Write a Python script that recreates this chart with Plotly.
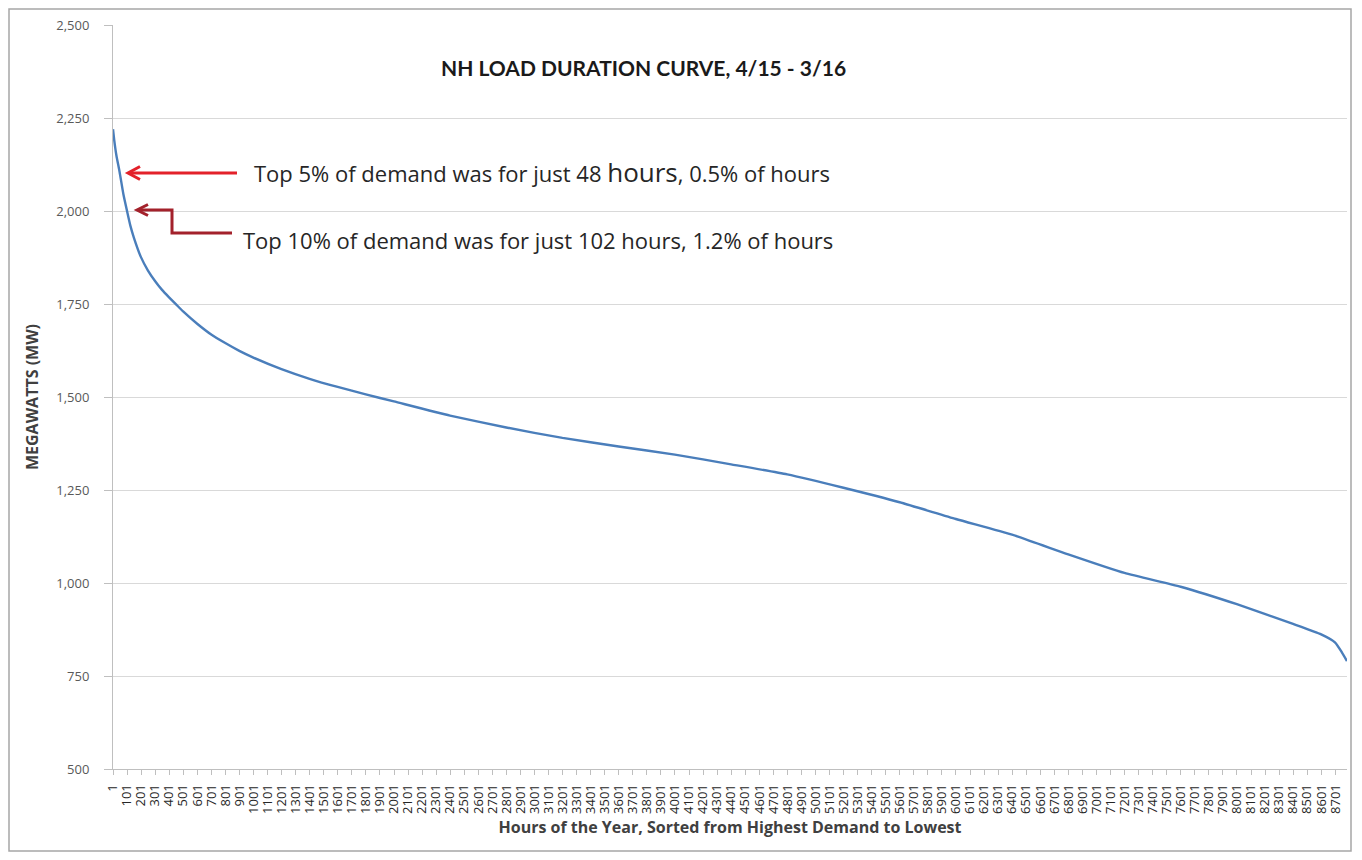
import plotly.graph_objects as go

# hours sorted from highest demand to lowest, and load (MW)
horas = [1, 10, 25, 48, 75, 102, 125, 150, 200, 250, 300, 350, 400, 450, 500,
         600, 700, 800, 900, 1000, 1200, 1400, 1600, 1800, 2000, 2400, 2800,
         3200, 3600, 4000, 4400, 4800, 5200, 5600, 6000, 6400, 6800, 7200,
         7600, 8000, 8400, 8600, 8700, 8740, 8784]
megawatts = [2220, 2190, 2150, 2105, 2045, 1998, 1960, 1928, 1876, 1840, 1812,
             1788, 1768, 1749, 1730, 1697, 1668, 1645, 1624, 1606, 1575, 1549,
             1527, 1507, 1488, 1450, 1418, 1390, 1367, 1345, 1319, 1292, 1256,
             1217, 1172, 1130, 1077, 1027, 990, 943, 890, 862, 840, 818, 790]

tick_horas = list(range(1, 8702, 100))
tick_textos = [str(h) for h in tick_horas]

fonte = "Open Sans"

# page pixel -> paper coords (plot area is 113..1347 x 25..769 on the page)
def px(x):
    return (x - 113) / 1234

def py(y):
    return 1 - (y - 25) / 744

fig = go.Figure()
fig.add_trace(go.Scatter(x=horas, y=megawatts, mode="lines",
                         line=dict(color="#4a7ebb", width=2.4, shape="spline", smoothing=0.5),
                         showlegend=False))

fig.update_layout(
    width=1346, height=844,
    margin=dict(l=105, r=7, t=17, b=83),
    paper_bgcolor="white", plot_bgcolor="white",
    font=dict(family=fonte, color="#404040"),
    xaxis=dict(range=[1, 8784], tickmode="array", tickvals=tick_horas,
               ticktext=tick_textos, tickangle=-90,
               tickfont=dict(size=13, color="#262626"),
               showgrid=False, zeroline=False, showline=True,
               linecolor="#bfbfbf", linewidth=1, ticks="outside",
               ticklen=5, tickcolor="#bfbfbf", ticklabelstandoff=4,
               title=dict(text="<b>Hours of the Year, Sorted from Highest Demand to Lowest</b>",
                          font=dict(size=16, color="#404040"), standoff=8)),
    yaxis=dict(range=[500, 2500], dtick=250, tickformat=",",
               tickfont=dict(size=13, color="#595959"),
               showgrid=True, gridcolor="#d9d9d9", gridwidth=1,
               zeroline=False, showline=True, linecolor="#bfbfbf",
               ticks="outside", ticklen=8, tickcolor="#bfbfbf",
               ticklabelstandoff=12,
               title=dict(text="<b>MEGAWATTS (MW)</b>",
                          font=dict(size=16, color="#404040"), standoff=13)),
)

# title inside the plot area
fig.add_annotation(text="<b>NH LOAD DURATION CURVE, 4/15 - 3/16</b>",
                   xref="paper", yref="paper", x=px(643), y=py(68),
                   yanchor="middle", showarrow=False,
                   font=dict(family="Lato", size=21, color="#1a1a1a"))

# arrow for the top 5%
vermelho = "#e3212a"
fig.add_shape(type="line", xref="paper", yref="paper",
              x0=px(129), y0=py(173), x1=px(237), y1=py(173),
              line=dict(color=vermelho, width=3))
fig.add_shape(type="path", xref="paper", yref="paper",
              path=f"M {px(140)},{py(166.5)} L {px(128)},{py(173)} L {px(140)},{py(179.5)}",
              line=dict(color=vermelho, width=3))
fig.add_annotation(text="Top 5% of demand was for just 48 <span style='font-size:26px'>hours</span>, 0.5% of hours",
                   xref="paper", yref="paper", x=px(252), y=py(172),
                   xanchor="left", yanchor="middle", showarrow=False,
                   font=dict(size=22, color="#262626"))

# elbow arrow for the top 10%
vinho = "#a3212b"
fig.add_shape(type="path", xref="paper", yref="paper",
              path=f"M {px(232)},{py(233)} L {px(172)},{py(233)} L {px(172)},{py(210)} L {px(138)},{py(210)}",
              line=dict(color=vinho, width=3))
fig.add_shape(type="path", xref="paper", yref="paper",
              path=f"M {px(148)},{py(204.5)} L {px(137)},{py(210)} L {px(148)},{py(215.5)}",
              line=dict(color=vinho, width=3))
fig.add_annotation(text="Top 10% of demand was for just 102 hours, 1.2% of hours",
                   xref="paper", yref="paper", x=px(241), y=py(240),
                   xanchor="left", yanchor="middle", showarrow=False,
                   font=dict(size=22, color="#262626"))

# thin frame round the whole chart
fig.add_shape(type="rect", xref="paper", yref="paper",
              x0=px(9), x1=px(1351), y0=py(851), y1=py(9),
              line=dict(color="#a6a6a6", width=1.5))

fig.write_html("out.html")
